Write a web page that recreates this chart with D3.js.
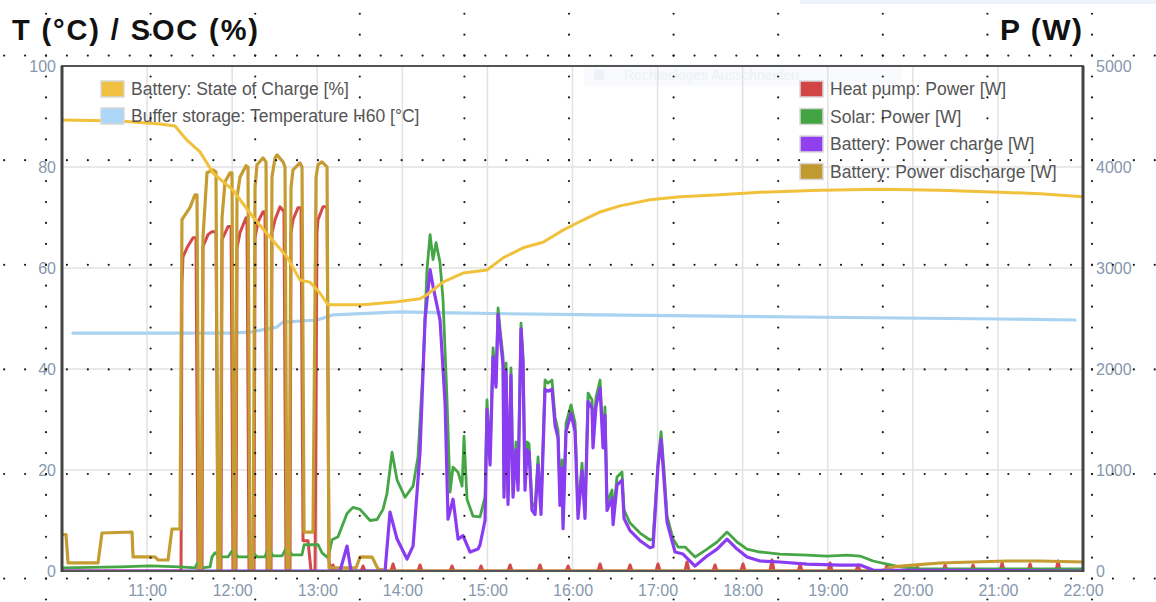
<!DOCTYPE html>
<html>
<head>
<meta charset="utf-8">
<script src="https://cdn.jsdelivr.net/npm/d3@7"></script>
<style>
  html, body { margin: 0; padding: 0; background: #fff; }
  svg { display: block; }
  text { font-family: "Liberation Sans", Arial, sans-serif; }
</style>
</head>
<body>
<script>
// ---------------- DATA (hours as decimal) ----------------
const xTickHours = [11, 12, 13, 14, 15, 16, 17, 18, 19, 20, 21, 22];
const xTickLabels = ["11:00", "12:00", "13:00", "14:00", "15:00", "16:00", "17:00", "18:00", "19:00", "20:00", "21:00", "22:00"];
const leftTicks = [0, 20, 40, 60, 80, 100];
const rightTicks = [0, 1000, 2000, 3000, 4000, 5000];

const legendLeft = ["Battery: State of Charge [%]", "Buffer storage: Temperature H60 [°C]"];
const legendRight = ["Heat pump: Power [W]", "Solar: Power [W]", "Battery: Power charge [W]", "Battery: Power discharge [W]"];

// Battery SOC [%] (left axis)
const socData = [[10.000,89.3],[10.682,89.1],[11.152,88.5],[11.328,88.1],[11.469,85.3],[11.622,83.0],[11.775,78.8],[12.010,75.4],[12.245,70.1],[12.445,66.1],[12.645,62.2],[12.797,57.6],[12.915,57.2],[13.033,55.0],[13.127,52.7],[13.538,52.7],[13.938,53.3],[14.208,53.9],[14.290,54.7],[14.478,57.2],[14.713,59.0],[14.995,59.6],[15.184,62.0],[15.419,64.0],[15.654,65.1],[15.889,67.5],[16.124,69.5],[16.324,71.1],[16.559,72.3],[16.911,73.5],[17.264,74.1],[17.734,74.5],[18.204,75.0],[18.910,75.4],[19.615,75.6],[20.320,75.4],[21.025,75.0],[21.495,74.7],[22.000,74.1]];

// Buffer storage temperature [°C] (left axis)
const tempData = [[10.129,47.1],[11.034,47.1],[11.975,47.1],[12.210,47.3],[12.527,48.3],[12.598,49.3],[12.997,49.7],[13.185,50.7],[13.973,51.3],[14.561,51.1],[16.324,50.7],[18.674,50.3],[21.025,49.9],[21.907,49.7]];

// Battery discharge power [W] (right axis)
const dischargeData = [[10.000,360],[10.047,360],[10.071,80],[10.423,80],[10.470,376],[10.823,386],[10.835,139],[11.093,139],[11.128,109],[11.246,109],[11.293,416],[11.387,416],
[11.410,3478],[11.505,3600],[11.563,3725],[11.587,3725],[11.610,0],
[11.634,0],[11.657,3300],[11.704,3943],[11.775,3972],[11.810,3950],[11.834,0],
[11.857,0],[11.881,3500],[11.916,3854],[11.975,3943],[11.998,3943],[12.022,0],
[12.033,0],[12.057,3700],[12.092,3901],[12.163,4012],[12.186,4000],[12.210,0],
[12.245,0],[12.269,3800],[12.292,4022],[12.363,4090],[12.398,4050],[12.421,0],
[12.445,0],[12.468,3900],[12.504,4090],[12.527,4120],[12.598,4051],[12.621,4000],[12.645,0],
[12.668,0],[12.692,3800],[12.715,3972],[12.797,4041],[12.821,4000],[12.845,385],[12.950,385],
[12.986,3900],[13.009,4022],[13.056,4051],[13.091,4022],[13.115,4000],[13.138,30],
[13.456,30],[13.503,138],[13.526,140],[13.644,138],[13.714,20],[13.855,0],[19.615,0],[19.768,40],[20.003,59],[20.320,79],[20.708,89],[21.108,99],[21.495,99],[22.000,89]];

// Heat pump power [W] (right axis)
const heatData = [[10.000,0],[11.399,0],[11.410,2850],[11.422,3110],[11.469,3200],[11.540,3300],[11.575,3300],[11.598,0],
[11.646,0],[11.657,3211],[11.716,3330],[11.763,3360],[11.810,3360],[11.834,0],
[11.869,0],[11.881,3280],[11.951,3410],[11.987,3410],[12.010,0],
[12.045,0],[12.057,3200],[12.092,3350],[12.163,3498],[12.174,3498],[12.198,0],
[12.257,0],[12.269,3300],[12.304,3458],[12.363,3557],[12.386,3557],[12.410,0],
[12.457,0],[12.468,3350],[12.504,3478],[12.562,3606],[12.609,3560],[12.633,0],
[12.680,0],[12.692,3350],[12.715,3478],[12.774,3597],[12.809,3597],[12.833,300],[12.891,300],[12.927,0],
[12.974,0],[12.997,3350],[13.009,3478],[13.068,3606],[13.115,3606],[13.138,100],[13.162,0],
[13.185,60],[13.209,0],[13.514,0],[13.538,50],[13.562,0],[13.867,0],[13.891,70],[13.915,0],[14.184,0],[14.208,60],[14.232,0],
[14.560,0],[14.584,50],[14.608,0],[14.901,0],[14.925,50],[14.949,0],[15.242,0],[15.266,60],[15.290,0],[15.594,0],[15.618,60],[15.642,0],
[15.924,0],[15.948,50],[15.972,0],[16.300,0],[16.324,70],[16.348,0],[16.652,0],[16.676,60],[16.700,0],[16.981,0],[17.005,70],[17.029,0],
[17.322,0],[17.346,90],[17.370,0],[17.651,0],[17.675,60],[17.699,0],[17.980,0],[18.004,70],[18.028,0],[18.321,0],[18.345,110],[18.369,0],
[18.651,0],[18.675,60],[18.699,0],[19.003,0],[19.027,80],[19.051,0],[19.332,0],[19.356,60],[19.380,0],[19.673,0],[19.697,60],[19.721,0],
[20.026,0],[20.050,50],[20.074,0],[20.355,0],[20.379,60],[20.403,0],[20.684,0],[20.708,60],[20.732,0],[21.025,0],[21.049,80],[21.073,0],
[21.354,0],[21.378,70],[21.402,0],[21.683,0],[21.707,100],[21.731,0],[22.000,0]];

// Solar power [W] (right axis)
const solarData = [[10.000,30],[10.682,40],[11.034,50],[11.387,40],[11.563,30],[11.599,90],[11.646,30],[11.740,40],[11.763,140],[11.798,180],[11.881,140],[11.951,140],[12.010,210],[12.069,140],[12.186,140],[12.233,190],[12.292,140],[12.386,140],[12.421,230],[12.480,150],[12.586,150],[12.645,240],[12.703,160],[12.821,160],[12.845,260],[13.009,260],[13.056,180],[13.127,130],[13.174,310],[13.244,340],[13.350,570],[13.420,630],[13.503,610],[13.620,500],[13.703,510],[13.773,610],[13.820,770],[13.879,1176],[13.938,900],[14.032,730],[14.126,840],[14.184,1130],[14.243,2000],[14.290,2984],[14.326,3330],[14.361,3083],[14.396,3251],[14.443,3053],[14.478,2688],[14.525,1700],[14.561,781],[14.596,1028],[14.655,978],[14.702,840],[14.725,1334],[14.760,711],[14.831,543],[14.913,535],[14.972,733],[14.995,1693],[15.031,1129],[15.066,2208],[15.101,1900],[15.125,2604],[15.148,2400],[15.184,2119],[15.195,802],[15.219,2059],[15.242,733],[15.277,2010],[15.301,802],[15.336,1277],[15.360,871],[15.395,2455],[15.419,2119],[15.442,871],[15.466,1277],[15.489,1260],[15.524,673],[15.560,634],[15.595,1129],[15.630,634],[15.677,1891],[15.712,1861],[15.759,1891],[15.795,1525],[15.830,1396],[15.853,733],[15.877,1099],[15.889,505],[15.924,1465],[15.983,1644],[16.030,1465],[16.065,604],[16.112,1069],[16.147,604],[16.183,1762],[16.230,1693],[16.241,1297],[16.277,1723],[16.324,1891],[16.359,1297],[16.382,1624],[16.406,673],[16.465,802],[16.477,535],[16.523,931],[16.582,980],[16.606,604],[16.676,475],[16.794,376],[16.911,307],[16.947,320],[17.005,1077],[17.041,1380],[17.076,1000],[17.111,543],[17.182,316],[17.241,237],[17.323,237],[17.440,138],[17.581,217],[17.699,287],[17.816,385],[17.934,287],[18.051,217],[18.204,188],[18.439,168],[18.757,158],[18.992,148],[19.227,158],[19.380,148],[19.533,99],[19.697,69],[19.850,40],[20.085,20],[22.000,20]];

// Battery charge power [W] (right axis)
const chargeData = [[10.000,0],[13.174,0],[13.268,0],[13.350,247],[13.397,0],[13.797,0],[13.855,583],[13.938,316],[14.055,119],[14.126,247],[14.208,1176],[14.267,2490],[14.326,2984],[14.361,2816],[14.443,2485],[14.502,1670],[14.537,514],[14.596,711],[14.655,316],[14.713,350],[14.796,188],[14.890,217],[14.913,260],[14.972,500],[14.995,1600],[15.031,1050],[15.066,2120],[15.101,1820],[15.125,2540],[15.148,2330],[15.184,2040],[15.195,730],[15.219,1980],[15.242,660],[15.277,1940],[15.301,730],[15.336,1200],[15.360,800],[15.395,2400],[15.419,2040],[15.442,800],[15.466,1200],[15.489,1180],[15.524,600],[15.560,560],[15.595,1050],[15.630,560],[15.677,1800],[15.712,1780],[15.759,1800],[15.795,1440],[15.830,1320],[15.853,650],[15.877,1020],[15.889,420],[15.924,1380],[15.983,1560],[16.030,1380],[16.065,520],[16.112,990],[16.147,520],[16.183,1680],[16.230,1610],[16.241,1220],[16.277,1640],[16.324,1810],[16.359,1220],[16.382,1540],[16.406,600],[16.465,720],[16.477,460],[16.523,850],[16.582,900],[16.606,520],[16.676,400],[16.794,300],[16.911,230],[16.947,240],[17.005,1038],[17.041,1300],[17.076,900],[17.111,484],[17.205,188],[17.299,168],[17.440,49],[17.581,148],[17.699,217],[17.816,316],[17.934,217],[18.051,138],[18.204,99],[18.439,89],[18.757,69],[19.145,59],[19.380,59],[19.533,10],[22.000,0]];

// ---------------- CHART ----------------
const W = 1156, H = 602;
const plot = { left: 62, right: 1083, top: 66, bottom: 571 };

const svg = d3.select("body").append("svg").attr("width", W).attr("height", H);

const x = d3.scaleLinear().domain([10, 22]).range([plot.left, plot.right]);
const yL = d3.scaleLinear().domain([0, 100]).range([plot.bottom, plot.top]);
const yR = d3.scaleLinear().domain([0, 5000]).range([plot.bottom, plot.top]);

// faint background artefacts
svg.append("rect").attr("x", 800).attr("y", 0).attr("width", 356).attr("height", 4).attr("fill", "#edf3fb");
svg.append("rect").attr("x", 584).attr("y", 64).attr("width", 318).attr("height", 22).attr("fill", "#f8fafd");
svg.append("rect").attr("x", 594).attr("y", 70).attr("width", 10).attr("height", 10).attr("fill", "#eef2f8");
svg.append("text").attr("x", 624).attr("y", 80).attr("font-size", 14).attr("fill", "#eef1f6").text("Rechteckiges Ausschneiden");

// gridlines
const grid = svg.append("g").attr("stroke", "#e2e2e2").attr("stroke-width", 1.5);
grid.selectAll("line.h").data(leftTicks.filter(d => d > 0 && d < 100)).join("line")
  .attr("x1", plot.left).attr("x2", plot.right).attr("y1", d => yL(d)).attr("y2", d => yL(d));
grid.selectAll("line.v").data(xTickHours.filter(h => h < 22)).join("line")
  .attr("y1", plot.top).attr("y2", plot.bottom).attr("x1", d => x(d)).attr("x2", d => x(d));

// series
svg.append("clipPath").attr("id", "clip").append("rect")
  .attr("x", plot.left).attr("y", plot.top - 2).attr("width", plot.right - plot.left).attr("height", plot.bottom - plot.top + 3);
const g = svg.append("g").attr("clip-path", "url(#clip)");

const lineL = d3.line().x(d => x(d[0])).y(d => yL(d[1]));
const lineR = d3.line().x(d => x(d[0])).y(d => yR(d[1]));

function draw(data, gen, color, width) {
  g.append("path").datum(data).attr("d", gen)
    .attr("fill", "none").attr("stroke", color).attr("stroke-width", width)
    .attr("stroke-linejoin", "round").attr("stroke-linecap", "round");
}
draw(tempData, lineL, "#a9d3f1", 3.2);
draw(heatData, lineR, "#d44a4a", 3);
draw(solarData, lineR, "#46a646", 2.8);
draw(dischargeData, lineR, "#c49c31", 3.2);
draw(chargeData, lineR, "#8a3df0", 3.2);
draw(socData, lineL, "#f1c13b", 3);

// frame
svg.append("rect").attr("x", plot.left).attr("y", plot.top)
  .attr("width", plot.right - plot.left).attr("height", plot.bottom - plot.top)
  .attr("fill", "none").attr("stroke", "#555").attr("stroke-width", 2);
svg.append("line").attr("x1", plot.left).attr("x2", plot.left).attr("y1", plot.top).attr("y2", plot.bottom + 1)
  .attr("stroke", "#444").attr("stroke-width", 3);
svg.append("line").attr("x1", plot.right).attr("x2", plot.right).attr("y1", plot.top).attr("y2", plot.bottom + 1)
  .attr("stroke", "#444").attr("stroke-width", 3);

// axes
const tickColor = "#8797ad";
const axL = svg.append("g").attr("transform", `translate(${plot.left},0)`)
  .call(d3.axisLeft(yL).tickValues(leftTicks).tickSize(0).tickPadding(6));
const axR = svg.append("g").attr("transform", `translate(${plot.right},0)`)
  .call(d3.axisRight(yR).tickValues(rightTicks).tickSize(0).tickPadding(13).tickFormat(d3.format("d")));
const axB = svg.append("g").attr("transform", `translate(0,${plot.bottom})`)
  .call(d3.axisBottom(x).tickValues(xTickHours).tickSize(0).tickPadding(14).tickFormat((d, i) => xTickLabels[i]));
[axL, axR, axB].forEach(a => {
  a.select(".domain").remove();
  a.selectAll("text").attr("font-family", "Liberation Sans, Arial, sans-serif")
    .attr("font-size", 16).attr("fill", tickColor);
});

// titles
svg.append("text").attr("x", 12).attr("y", 40).attr("font-size", 29).attr("font-weight", "bold")
  .attr("fill", "#111").attr("textLength", 246).attr("lengthAdjust", "spacing").text("T (°C) / SOC (%)");
svg.append("text").attr("x", 1000).attr("y", 40).attr("font-size", 30).attr("font-weight", "bold")
  .attr("fill", "#111").attr("textLength", 82).attr("lengthAdjust", "spacing").text("P (W)");

// legends
const leftColors = ["#f0c040", "#acd7f6"];
const rightColors = ["#d24545", "#43a443", "#9040ee", "#c09a30"];
function legend(items, colors, sx, tx, ys) {
  items.forEach((t, i) => {
    svg.append("rect").attr("x", sx).attr("y", ys[i] - 8).attr("width", 23).attr("height", 16)
      .attr("fill", colors[i]).attr("stroke", "#d8d8d8").attr("stroke-width", 1.5);
    svg.append("text").attr("x", tx).attr("y", ys[i]).attr("dy", "0.35em")
      .attr("font-size", 17.5).attr("fill", "#555").text(t);
  });
}
legend(legendLeft, leftColors, 101, 131, [89, 116]);
legend(legendRight, rightColors, 800, 830, [89, 116.5, 144, 171.5]);

// dotted overlay grid
const step = 104.6, sub = step / 5;
const dots = [];
for (let k = 0; k < 6; k++) {
  const yy = 55.6 + k * step;
  for (let xx = 46 - 2 * sub; xx < W; xx += sub) dots.push([xx, yy]);
}
for (let k = 0; k < 11; k++) {
  const xx = 46 + k * step;
  for (let yy = 55.6 - 2 * sub; yy < H; yy += sub) dots.push([xx, yy]);
}
svg.append("g").selectAll("circle").data(dots).join("circle")
  .attr("cx", d => d[0]).attr("cy", d => d[1]).attr("r", 1.1).attr("fill", "#1a1a1a");
</script>
</body>
</html>
